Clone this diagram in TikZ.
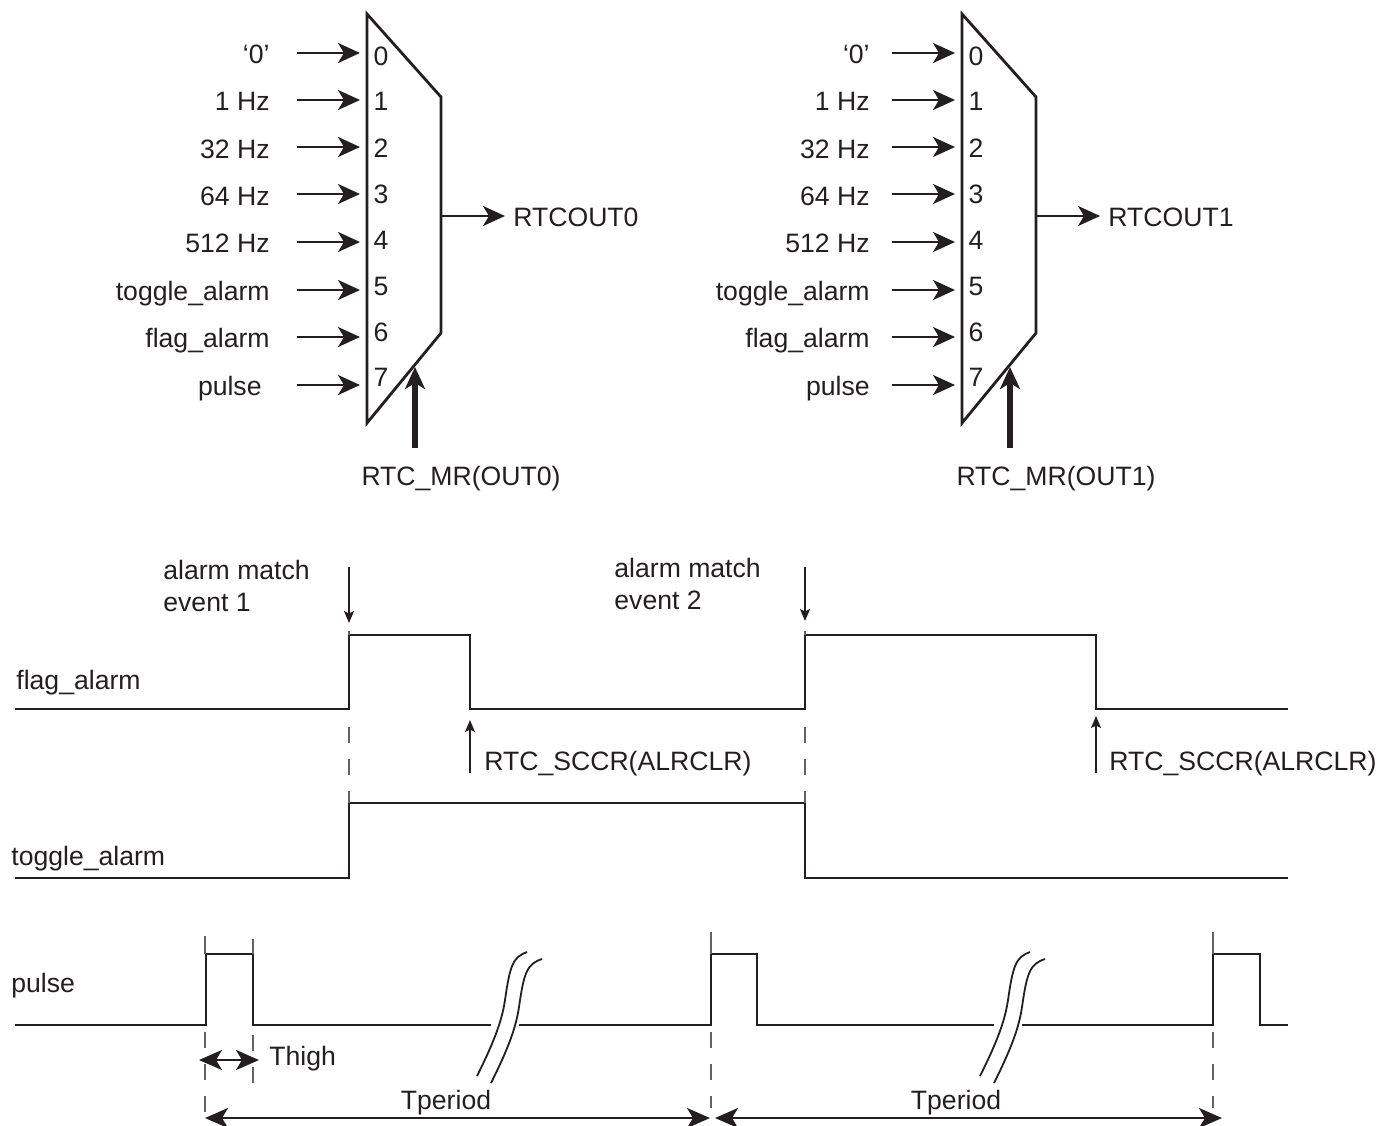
\documentclass[tikz,border=0pt]{standalone}
\usepackage{fontspec}
\setmainfont{Liberation Sans}
\usetikzlibrary{arrows.meta,positioning}
\definecolor{ink}{HTML}{231F20}

\begin{document}
\begin{tikzpicture}[x=0.5pt,y=-0.5pt,>={Stealth[length=11pt,width=10pt,inset=3pt]},
  every node/.style={font=\fontsize{13.3}{16}\selectfont,inner sep=0pt,text=ink},
  wave/.style={draw=ink,line width=1.4pt},flow/.style={draw=ink,line width=1.25pt,->},
  guide/.style={draw=ink!70,line width=0.7pt},
  tick/.style={guide,dash pattern=on 8pt off 8pt},
  hint/.style={draw=ink,line width=0.8pt,-{Stealth[length=6pt,width=5pt,inset=1.2pt]}},
  span/.style={draw=ink,line width=1.25pt,>={Stealth[length=11.5pt,width=10pt,inset=3pt]},<->}]
\useasboundingbox (0,0) rectangle (1379,1125);
% multiplexers
\foreach \dx/\lx/\plx/\n in {0/270/262/0,595/870/870/1}{
  \draw[draw=ink,line width=1.4pt,line join=miter] (\dx+367,14)--(\dx+441,97)--(\dx+441,333)--(\dx+367,423)--cycle;
  \foreach \i/\y/\lb/\nb/\txt/\ex in {0/53/63/65/‘0’/\lx,1/100/110/110/1 Hz/\lx,2/147/158/157/32 Hz/\lx,3/194/205/203/64 Hz/\lx,4/242/252/249/512 Hz/\lx,5/290/300/295/toggle\_alarm/\lx,6/337/347/341/flag\_alarm/\lx,7/385/395/386/pulse/\plx}{
    \node[anchor=base east] (lab\n\i) at (\ex,\lb) {\txt};
    \node[anchor=base] (num\n\i) at (\dx+381,\nb) {\i};
    \coordinate (from\n\i) at (\dx+297,\y);\coordinate (to\n\i) at (\dx+360,\y);
    \draw[flow] (from\n\i)--(to\n\i);
  }
  \coordinate (out\n) at (\dx+441,216);\coordinate (outtip\n) at (\dx+505,216);
  \draw[flow] (out\n)--(outtip\n);
  \node[anchor=base west] (rtcout\n) at (\dx+513,226) {RTCOUT\n};
  \coordinate (sel\n) at (\dx+415,448);\coordinate (seltip\n) at (\dx+415,367);
  \draw[draw=ink,line width=2.6pt,->] (sel\n)--(seltip\n);
  \node[anchor=base] (rtcmr\n) at (\dx+461,485) {RTC\_MR(OUT\n)};
}
% timing labels
\node[anchor=north west,align=left] (event1) at (163,560) {alarm match\\event 1};
\node[anchor=north west,align=left] (event2) at (614,558) {alarm match\\event 2};
\node[anchor=base west] (flag) at (16,689) {flag\_alarm};
\node[anchor=base west] (toggle) at (11,865) {toggle\_alarm};
\node[anchor=base west] (pulse) at (11,992) {pulse};
\node[anchor=base west] (sccr1) at (484,770) {RTC\_SCCR(ALRCLR)};
\node[anchor=base west] (sccr2) at (1109,770) {RTC\_SCCR(ALRCLR)};
% waves
\draw[wave] (15,709)-|(349,635)-|(470,709)-|(805,635)-|(1096,709)--(1288,709);
\draw[wave] (15,878)-|(349,803)-|(805,878)--(1288,878);
\draw[wave] (15,1025)-|(206,954)-|(253,1025)--(491,1025);
\draw[wave] (519,1025)-|(711,954)-|(757,1025)--(994,1025);
\draw[wave] (1022,1025)-|(1213,954)-|(1260,1025)--(1288,1025);
\foreach \bx in {0,503}{
  \draw[draw=ink,line width=0.9pt] (\bx+477,1076) .. controls (\bx+495,1040) and (\bx+502,1020) .. (\bx+505,1000) .. controls (\bx+510,965) and (\bx+513,957) .. (\bx+527,952);
  \draw[draw=ink,line width=0.9pt] (\bx+491,1083) .. controls (\bx+509,1047) and (\bx+516,1027) .. (\bx+519,1007) .. controls (\bx+524,972) and (\bx+527,964) .. (\bx+542,959);
}
% guides
\foreach \gx in {349,805}{
  \draw[guide] (\gx,631)--(\gx,635);
  \draw[tick] (\gx,727)--(\gx,803);
}
\foreach \gx/\gt/\ga/\gb in {205/936/1032/1112,253/939/1035/1083,711/932/1032/1108,1213/932/1032/1108}{
  \draw[guide] (\gx,\gt)--(\gx,954);
  \draw[tick] (\gx,\ga)--(\gx,\gb);
}
% events
\coordinate (ev1) at (349,567);\coordinate (ev1tip) at (349,623);
\coordinate (ev2) at (805,567);\coordinate (ev2tip) at (805,621);
\coordinate (clr1) at (470,773);\coordinate (clr1tip) at (470,720);
\coordinate (clr2) at (1096,773);\coordinate (clr2tip) at (1096,716);
\draw[hint] (ev1)--(ev1tip);\draw[hint] (ev2)--(ev2tip);
\draw[hint] (clr1)--(clr1tip);\draw[hint] (clr2)--(clr2tip);
% spans
\coordinate (hl) at (199,1060);\coordinate (hr) at (259,1060);
\coordinate (p1l) at (205,1118);\coordinate (p1r) at (710,1118);
\coordinate (p2l) at (715,1118);\coordinate (p2r) at (1222,1118);
\draw[span] (hl)--(hr);\draw[span] (p1l)--(p1r);\draw[span] (p2l)--(p2r);
\node[anchor=base west] (thigh) at (269,1065) {Thigh};
\node[anchor=base] (tperiod1) at (446,1109) {Tperiod};
\node[anchor=base] (tperiod2) at (956,1109) {Tperiod};
\end{tikzpicture}
\end{document}
